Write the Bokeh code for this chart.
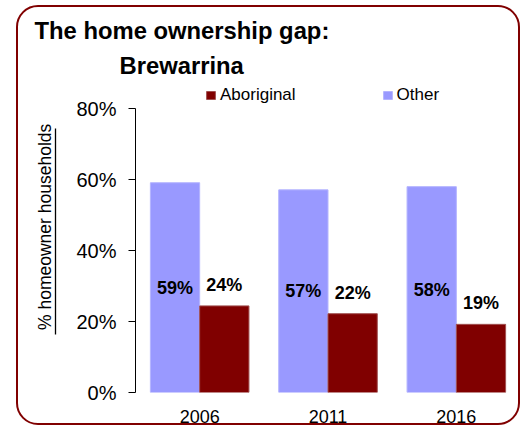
from bokeh.plotting import figure
from bokeh.models import (ColumnDataSource, FactorRange, FixedTicker, PrintfTickFormatter,
                          Title, Legend, LegendItem, LinearAxis)
from bokeh.transform import dodge
from bokeh.core.properties import value
from bokeh.embed import file_html
from bokeh.resources import INLINE

years = ["2006", "2011", "2016"]
other = [59.1, 57.1, 58.0]
aboriginal = [24.4, 22.2, 19.2]
y_ticks = [0, 20, 40, 60, 80]

OTHER_C = "#9999ff"
ABOR_C = "#800000"
FONT = "Liberation Sans"

src = ColumnDataSource(data=dict(
    year=years,
    other=other,
    aboriginal=aboriginal,
    other_mid=[v / 2 for v in other],
    other_lbl=[f"{v:.0f}%" for v in other],
    abor_lbl=[f"{v:.0f}%" for v in aboriginal],
))

p = figure(width=504, height=420, x_range=FactorRange(factors=years, range_padding=0),
           y_range=(0, 86.5), output_backend="svg", toolbar_location=None, title_location=None,
           min_border_left=119, min_border_right=0, min_border_top=80, min_border_bottom=32)
# rounded frame around the whole chart
p.styles = {"margin-top": "5px", "margin-left": "16px",
            "outline": "2.5px solid #800000", "outline-offset": "-2.5px",
            "border-radius": "22px"}
p.outline_line_color = None
p.grid.grid_line_color = None
p.background_fill_alpha = 0
p.border_fill_alpha = 0

bw = 0.384
r_other = p.vbar(x=dodge("year", -bw / 2, range=p.x_range), top="other", width=bw, source=src,
                 fill_color=OTHER_C, line_color="#b4b4ff", line_width=1)
r_abor = p.vbar(x=dodge("year", bw / 2, range=p.x_range), top="aboriginal", width=bw, source=src,
                fill_color=ABOR_C, line_color="#a05050", line_width=1)

p.text(x=dodge("year", -bw / 2, range=p.x_range), y="other_mid", text="other_lbl", source=src,
       text_align="center", text_baseline="middle", text_font=value(FONT),
       text_font_size="18px", text_font_style="bold", text_color="black")
p.text(x=dodge("year", bw / 2, range=p.x_range), y="aboriginal", text="abor_lbl", source=src,
       y_offset=-21, text_align="center", text_baseline="middle", text_font=value(FONT),
       text_font_size="18px", text_font_style="bold", text_color="black")

# inner y axis (ticks + labels)
yax = p.yaxis[0]
yax.ticker = FixedTicker(ticks=y_ticks)
yax.bounds = (0, 80)
yax.formatter = PrintfTickFormatter(format="%d%%")
yax.major_label_text_font = FONT
yax.major_label_text_font_size = "20px"
yax.major_label_text_color = "black"
yax.major_tick_in = 0
yax.major_tick_out = 7
yax.minor_tick_line_color = None
yax.axis_line_color = "black"
yax.major_tick_line_color = "black"
yax.major_label_standoff = 12
yax.axis_label = " "
yax.axis_label_text_font_size = "1px"
yax.axis_label_standoff = 14

# outer y axis: its line is the underline of the axis title
outer = LinearAxis(ticker=FixedTicker(ticks=[50]), major_label_overrides={50: ""},
                   bounds=(16.4, 74.5),
                   axis_label="\u00a0" * 5 + "% homeowner households", axis_label_standoff=1,
                   axis_label_text_font=FONT, axis_label_text_font_size="17.5px",
                   axis_label_text_font_style="normal", axis_label_text_color="black",
                   axis_line_color="black", axis_line_width=1.3,
                   major_tick_out=0, major_tick_in=0, minor_tick_out=0, minor_tick_in=0,
                   major_label_standoff=0, major_tick_line_color=None,
                   minor_tick_line_color=None)
p.add_layout(outer, "left")

# x axis
xax = p.xaxis[0]
xax.axis_line_color = None
xax.major_tick_line_color = None
xax.minor_tick_line_color = None
xax.major_label_text_font = FONT
xax.major_label_text_font_size = "18px"
xax.major_label_text_color = "black"
xax.major_label_standoff = 11

# legend inside the (extended) plot area, above the 80% level
legend = Legend(items=[LegendItem(label="Aboriginal", renderers=[r_abor]),
                       LegendItem(label="Other", renderers=[r_other])],
                location=(70, 287), orientation="horizontal", padding=0, margin=0, spacing=86,
                glyph_width=11, glyph_height=10, label_standoff=4,
                label_text_font=FONT, label_text_font_size="17px",
                label_text_color="black", border_line_color=None,
                background_fill_alpha=0)
p.add_layout(legend)

# title (two lines)
p.add_layout(Title(text="Brewarrina", align="left", offset=-16, standoff=13,
                   text_font=FONT, text_font_size="23.8px", text_font_style="bold",
                   text_color="black"), "above")
p.add_layout(Title(text="The home ownership gap:", align="left", offset=-101, standoff=0,
                   text_font=FONT, text_font_size="23.8px", text_font_style="bold",
                   text_color="black"), "above")

open("out.html", "w").write(file_html(p, INLINE))
